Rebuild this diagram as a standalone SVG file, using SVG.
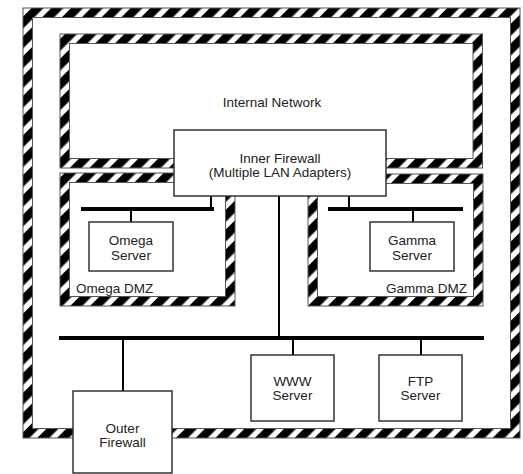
<svg xmlns="http://www.w3.org/2000/svg" width="523" height="474" viewBox="0 0 523 474">
<defs>
<pattern id="hatch" patternUnits="userSpaceOnUse" width="14" height="14" patternTransform="rotate(45)">
<rect width="14" height="14" fill="#fff"/>
<rect width="8.5" height="14" fill="#000"/>
</pattern>
</defs>
<style>
.band{fill:none;stroke:url(#hatch);stroke-width:9.5}
.edge{fill:none;stroke:#555;stroke-width:1}
.box{fill:#fff;stroke:#333;stroke-width:1.5}
.bus{stroke:#000;stroke-width:4;fill:none}
.drop{stroke:#000;stroke-width:2;fill:none}
text{font-family:"Liberation Sans",Arial,sans-serif;font-size:13.5px;fill:#222}
.c{text-anchor:middle}
</style>
<rect width="523" height="474" fill="#fff"/>

<g id="perimeter">
<rect class="band" x="27.75" y="12.75" width="487.5" height="420.5"/>
<rect class="edge" x="23" y="8" width="497" height="430"/>
<rect class="edge" x="32.5" y="17.5" width="478" height="411"/>
</g>

<g id="internal-network">
<rect class="band" x="64.75" y="38.75" width="413" height="124.5"/>
<rect class="edge" x="60" y="34" width="422.5" height="134"/>
<rect class="edge" x="69.5" y="43.5" width="403.5" height="115"/>
<text class="c" x="272" y="107">Internal Network</text>
</g>

<g id="omega-dmz">
<rect class="band" x="64.75" y="177.75" width="165.5" height="123.5"/>
<rect class="edge" x="60" y="173" width="175" height="133"/>
<rect class="edge" x="69.5" y="182.5" width="156" height="114"/>
<text x="76" y="293">Omega DMZ</text>
</g>

<g id="gamma-dmz">
<rect class="band" x="312.75" y="178.75" width="165.5" height="122.5"/>
<rect class="edge" x="308" y="174" width="175" height="132"/>
<rect class="edge" x="317.5" y="183.5" width="156" height="113"/>
<text x="467" y="293" text-anchor="end">Gamma DMZ</text>
</g>

<g id="connectors">
<line class="bus" x1="81" y1="209" x2="214" y2="209"/>
<line class="bus" x1="328" y1="209" x2="463" y2="209"/>
<line class="bus" x1="59" y1="338" x2="484" y2="338"/>
<line class="drop" x1="211" y1="196" x2="211" y2="209"/>
<line class="drop" x1="131" y1="209" x2="131" y2="222"/>
<line class="drop" x1="349" y1="196" x2="349" y2="209"/>
<line class="drop" x1="413" y1="209" x2="413" y2="222"/>
<line class="drop" x1="279" y1="196" x2="279" y2="338"/>
<line class="drop" x1="123" y1="338" x2="123" y2="391"/>
<line class="drop" x1="293" y1="338" x2="293" y2="355"/>
<line class="drop" x1="421" y1="338" x2="421" y2="355"/>
</g>

<g id="inner-firewall">
<rect class="box" x="174" y="130" width="212" height="66"/>
<text class="c" x="280" y="163">Inner Firewall</text>
<text class="c" x="280" y="177">(Multiple LAN Adapters)</text>
</g>

<g id="omega-server">
<rect class="box" x="89" y="222" width="84" height="49"/>
<text class="c" x="131" y="245">Omega</text>
<text class="c" x="131" y="260">Server</text>
</g>

<g id="gamma-server">
<rect class="box" x="370" y="222" width="84" height="49"/>
<text class="c" x="412" y="245">Gamma</text>
<text class="c" x="412" y="260">Server</text>
</g>

<g id="www-server">
<rect class="box" x="251" y="355" width="83" height="66"/>
<text class="c" x="292.5" y="386">WWW</text>
<text class="c" x="292.5" y="400">Server</text>
</g>

<g id="ftp-server">
<rect class="box" x="379" y="355" width="83" height="66"/>
<text class="c" x="420.5" y="386">FTP</text>
<text class="c" x="420.5" y="400">Server</text>
</g>

<g id="outer-firewall">
<rect class="box" x="73" y="391" width="99" height="82"/>
<text class="c" x="122.5" y="433">Outer</text>
<text class="c" x="122.5" y="447">Firewall</text>
</g>
</svg>
